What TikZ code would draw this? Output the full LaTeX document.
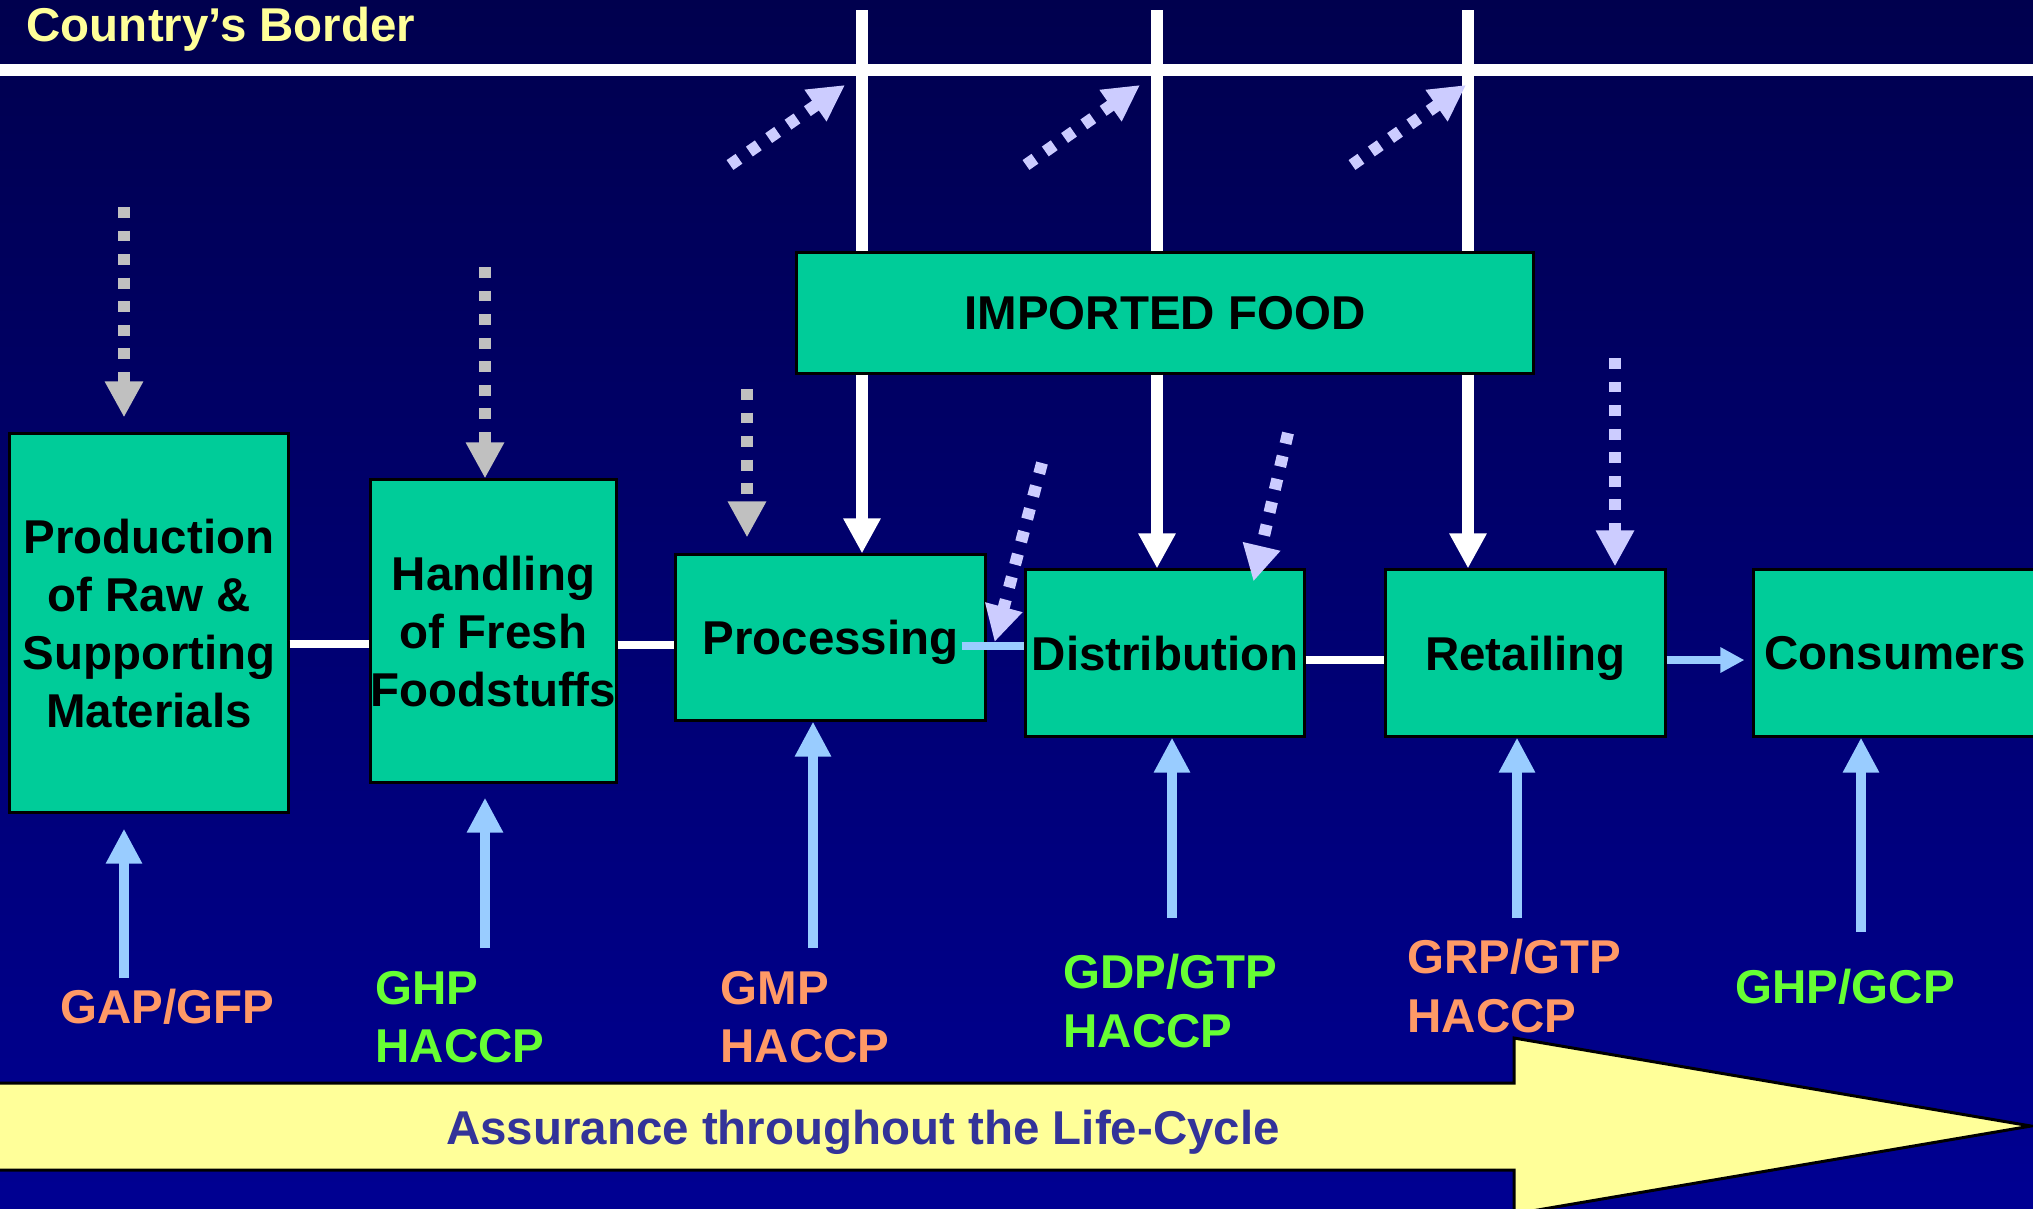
\documentclass[tikz,border=0pt]{standalone}
\usepackage{fontspec}
\setmainfont{Liberation Sans}
\usetikzlibrary{arrows.meta,calc}
\definecolor{bgtop}{HTML}{00004E}
\definecolor{bgbot}{HTML}{000092}
\definecolor{boxgreen}{HTML}{00CC99}
\definecolor{lav}{HTML}{CCCCFF}
\definecolor{dgray}{HTML}{C0C0C0}
\definecolor{lblue}{HTML}{99CCFF}
\definecolor{orng}{HTML}{FF9966}
\definecolor{grn}{HTML}{66FF33}
\definecolor{ylw}{HTML}{FFFF99}
\definecolor{purp}{HTML}{333399}
\begin{document}
\begin{tikzpicture}[x=0.01cm,y=-0.01cm,
 every node/.style={font=\fontsize{13.5}{16.5}\selectfont\bfseries, inner sep=0pt},
 stage/.style={draw=black, line width=0.85pt, fill=boxgreen, align=center, text=black, text depth=0pt},
 borderline/.style={white, line width=3.4pt},
 feed/.style={white, line width=3.4pt, -{Triangle[width=0.35cm,length=0.35cm]}},
 link/.style={white, line width=2.3pt},
 bluelink/.style={lblue, line width=2.3pt},
 bluearrow/.style={lblue, line width=2.3pt, -{Triangle[width=0.24cm,length=0.24cm]}},
 upblue/.style={lblue, line width=2.85pt, -{Triangle[width=0.34cm,length=0.35cm]}},
 gdash/.style={dgray, line width=3.4pt, dash pattern=on 3.1pt off 3.6pt, -{Triangle[width=0.36cm,length=0.36cm]}},
 ldash/.style={lav, line width=3.4pt, dash pattern=on 3.1pt off 3.6pt, -{Triangle[width=0.36cm,length=0.36cm]}},
 lbl/.style={anchor=base west},
]
\useasboundingbox (0,0) rectangle (2033,1208);
\shade[top color=bgtop, bottom color=bgbot] (0,0) rectangle (2033,1208);

% yellow life-cycle arrow
\draw[fill=ylw, draw=black, line width=0.85pt] (-10,1083) -- (1514,1083) -- (1514,1038) -- (2031,1126) -- (1514,1214) -- (1514,1170) -- (-10,1170) -- cycle;
\node[anchor=base, text=purp] (life) at (863,1144) {Assurance throughout the Life-Cycle};

% country's border
\draw[borderline] (-10,70) -- (2043,70);
\node[anchor=base west, text=ylw] (cb) at (26,41) {Country’s Border};

% stages
\node[stage, minimum width=2.78cm, minimum height=3.78cm] (prod) at (149,623) {Production\\of Raw \&\\Supporting\\Materials};
\node[stage, minimum width=2.45cm, minimum height=3.02cm] (hand) at (493.5,631) {Handling\\of Fresh\\Foodstuffs};
\node[stage, minimum width=3.09cm, minimum height=1.65cm] (proc) at (830.5,637.5) {Processing};
\node[stage, minimum width=2.78cm, minimum height=1.66cm] (dist) at (1165,653) {Distribution};
\node[stage, minimum width=2.79cm, minimum height=1.66cm] (ret) at (1525.5,653) {Retailing};
\node[stage, minimum width=2.82cm, minimum height=1.66cm] (cons) at (1895,653) {Consumers};
\node[stage, minimum width=7.36cm, minimum height=1.20cm] (imp) at (1165,313) {IMPORTED FOOD};

% chain connectors
\coordinate (ya) at (0,644);
\coordinate (yb) at (0,645);
\coordinate (yc) at (0,646);
\coordinate (yd) at (0,660);
\draw[link] (prod.east |- ya) -- (hand.west |- ya);
\draw[link] (hand.east |- yb) -- (proc.west |- yb);
\draw[bluelink] ([xshift=-0.25cm]proc.east |- yc) -- (dist.west |- yc);
\draw[link] (dist.east |- yd) -- (ret.west |- yd);
\draw[bluearrow, shorten >=0.08cm] (ret.east |- yd) -- (cons.west |- yd);

% imported food lines
\coordinate (t1) at (862,10);
\coordinate (t2) at (1157,10);
\coordinate (t3) at (1468,10);
\draw[borderline] (t1) -- (imp.north -| t1);
\draw[borderline] (t2) -- (imp.north -| t2);
\draw[borderline] (t3) -- (imp.north -| t3);
\draw[feed] (imp.south -| t1) -- (proc.north -| t1);
\draw[feed] (imp.south -| t2) -- (dist.north -| t2);
\draw[feed] (imp.south -| t3) -- (ret.north -| t3);

% dotted arrows across the border
\coordinate (u1s) at (730,165); \coordinate (u1e) at (845,85);
\coordinate (u2s) at (1026,165); \coordinate (u2e) at (1140,85);
\coordinate (u3s) at (1352,165); \coordinate (u3e) at (1466,85);
\draw[ldash] (u1s) -- (u1e);
\draw[ldash] (u2s) -- (u2e);
\draw[ldash] (u3s) -- (u3e);

% gray dotted inputs
\coordinate (g1) at (124,207);
\coordinate (g2) at (485,267);
\coordinate (g3) at (747,389);
\draw[gdash, shorten >=0.15cm] (g1) -- (prod.north -| g1);
\draw[gdash] (g2) -- (hand.north -| g2);
\draw[gdash, shorten >=0.16cm] (g3) -- (proc.north -| g3);

% lavender dotted inputs
\coordinate (l1) at (1042,463);
\coordinate (l2) at (1288,433);
\coordinate (l3) at (1615,358);
\draw[ldash] (l1) -- ($(proc.east)+(8,4.5)$);
\draw[ldash] (l2) -- ($(dist.north west)+(229,13)$);
\draw[ldash, shorten >=0.02cm] (l3) -- (ret.north -| l3);

% assurance arrows
\coordinate (b1) at (124,978);
\coordinate (b2) at (485,948);
\coordinate (b3) at (813,948);
\coordinate (b4) at (1172,918);
\coordinate (b5) at (1517,918);
\coordinate (b6) at (1861,932);
\draw[upblue, shorten >=0.15cm] (b1) -- (prod.south -| b1);
\draw[upblue, shorten >=0.14cm] (b2) -- (hand.south -| b2);
\draw[upblue] (b3) -- (proc.south -| b3);
\draw[upblue] (b4) -- (dist.south -| b4);
\draw[upblue] (b5) -- (ret.south -| b5);
\draw[upblue] (b6) -- (cons.south -| b6);

% labels
\node[lbl, text=orng] (gap) at (60,1023) {GAP/GFP};
\node[lbl, text=grn] (ghpa) at (375,1004) {GHP};
\node[lbl, text=grn] (ghpb) at (375,1062) {HACCP};
\node[lbl, text=orng] (gmpa) at (720,1004) {GMP};
\node[lbl, text=orng] (gmpb) at (720,1062) {HACCP};
\node[lbl, text=grn] (gdpa) at (1063,988) {GDP/GTP};
\node[lbl, text=grn] (gdpb) at (1063,1047) {HACCP};
\node[lbl, text=orng] (grpa) at (1407,973) {GRP/GTP};
\node[lbl, text=orng] (grpb) at (1407,1032) {HACCP};
\node[lbl, text=grn] (gcp) at (1735,1003) {GHP/GCP};
\end{tikzpicture}
\end{document}
